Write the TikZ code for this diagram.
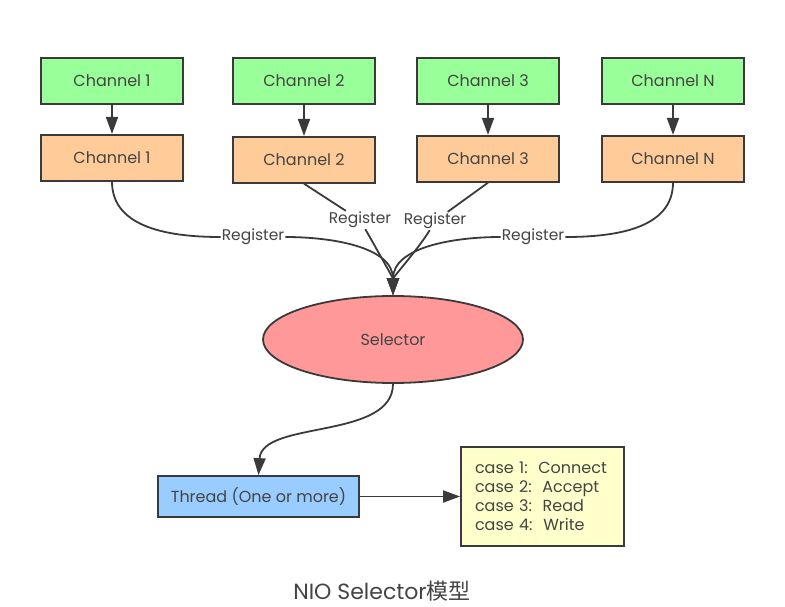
\documentclass[tikz,border=0pt]{standalone}
\usepackage{fontspec}
\setmainfont{Poppins}
\newfontfamily\cjk{Noto Sans CJK SC}
\usetikzlibrary{arrows.meta}
\usetikzlibrary{shapes.geometric}
\usetikzlibrary{positioning}

\definecolor{linegray}{HTML}{3A3A3A}
\definecolor{textgray}{HTML}{444444}
\definecolor{chgreen}{HTML}{99FF99}
\definecolor{chorange}{HTML}{FFCC99}
\definecolor{selred}{HTML}{FF9999}
\definecolor{thrblue}{HTML}{99CCFF}
\definecolor{caseyellow}{HTML}{FFFFCC}

\begin{document}
\begin{tikzpicture}[x=1pt,y=-1pt,
  chbox/.style={draw=linegray,line width=1.8pt,minimum width=142pt,
    minimum height=46pt,inner sep=0pt,text=textgray,
    font=\fontsize{16}{19}\selectfont},
  conn/.style={draw=linegray,line width=1.8pt},
  tip/.style={-{Triangle[length=17pt,width=12pt]}},
  reglabel/.style={fill=white,inner sep=1pt,text=textgray,
    font=\fontsize{15.5}{18}\selectfont}]
  \useasboundingbox (0,0) rectangle (785,607);

  % channels
  \node[chbox,fill=chgreen] (ch1g) at (112,81) {Channel 1};
  \node[chbox,fill=chgreen] (ch2g) at (304,81) {Channel 2};
  \node[chbox,fill=chgreen] (ch3g) at (488,81) {Channel 3};
  \node[chbox,fill=chgreen] (chNg) at (673,81) {Channel N};

  \node[chbox,fill=chorange,below=29pt of ch1g] (ch1o) {Channel 1};
  \node[chbox,fill=chorange,below=31pt of ch2g] (ch2o) {Channel 2};
  \node[chbox,fill=chorange,below=30pt of ch3g] (ch3o) {Channel 3};
  \node[chbox,fill=chorange,below=30pt of chNg] (chNo) {Channel N};

  \draw[conn,tip] (ch1g) -- (ch1o);
  \draw[conn,tip] (ch2g) -- (ch2o);
  \draw[conn,tip] (ch3g) -- (ch3o);
  \draw[conn,tip] (chNg) -- (chNo);

  % selector
  \node[ellipse,draw=linegray,line width=1.8pt,fill=selred,
    minimum width=260pt,minimum height=87pt,text=textgray,
    font=\fontsize{16}{19}\selectfont] (sel) at (393,339.5) {Selector};

  \node[reglabel] (reg1) at (253,237) {Register};
  \node[reglabel] (reg2) at (360,220) {Register};
  \node[reglabel] (reg3) at (435,221) {Register};
  \node[reglabel] (regN) at (533,237) {Register};

  \draw[conn] (ch1o.south) to[out=-90,in=180] (reg1);
  \draw[conn,tip] (reg1) to[out=0,in=90] (sel.north);
  \draw[conn] (ch2o.south) -- (reg2);
  \draw[conn,tip] (reg2) to[out=-60,in=90,looseness=0.6] (sel.north);
  \draw[conn] (ch3o.south) -- (reg3);
  \draw[conn,tip] (reg3) to[out=-120,in=90,looseness=0.6] (sel.north);
  \draw[conn] (chNo.south) to[out=-90,in=0] (regN);
  \draw[conn,tip] (regN) to[out=180,in=90] (sel.north);

  % thread and cases
  \node[chbox,fill=thrblue,minimum width=201pt,minimum height=41pt]
    (thr) at (258.5,496.5) {Thread (One or more)};
  \node[draw=linegray,line width=1.8pt,fill=caseyellow,text=textgray,
    text width=135pt,inner xsep=14pt,minimum height=99pt,align=left,
    font=\fontsize{16}{19}\selectfont] (cases) at (542.5,496.5)
    {case 1:\ \ Connect\\case 2:\ \ Accept\\case 3:\ \ Read\\case 4:\ \ Write};

  \draw[conn,tip] (sel.south) .. controls (393,440) and (262,420) .. (thr.north);
  \draw[conn,tip] (thr) -- (cases);

  \node[text=textgray,font=\fontsize{22}{26}\selectfont] (cap) at (382,591)
    {NIO Selector{\cjk 模型}};
\end{tikzpicture}
\end{document}
